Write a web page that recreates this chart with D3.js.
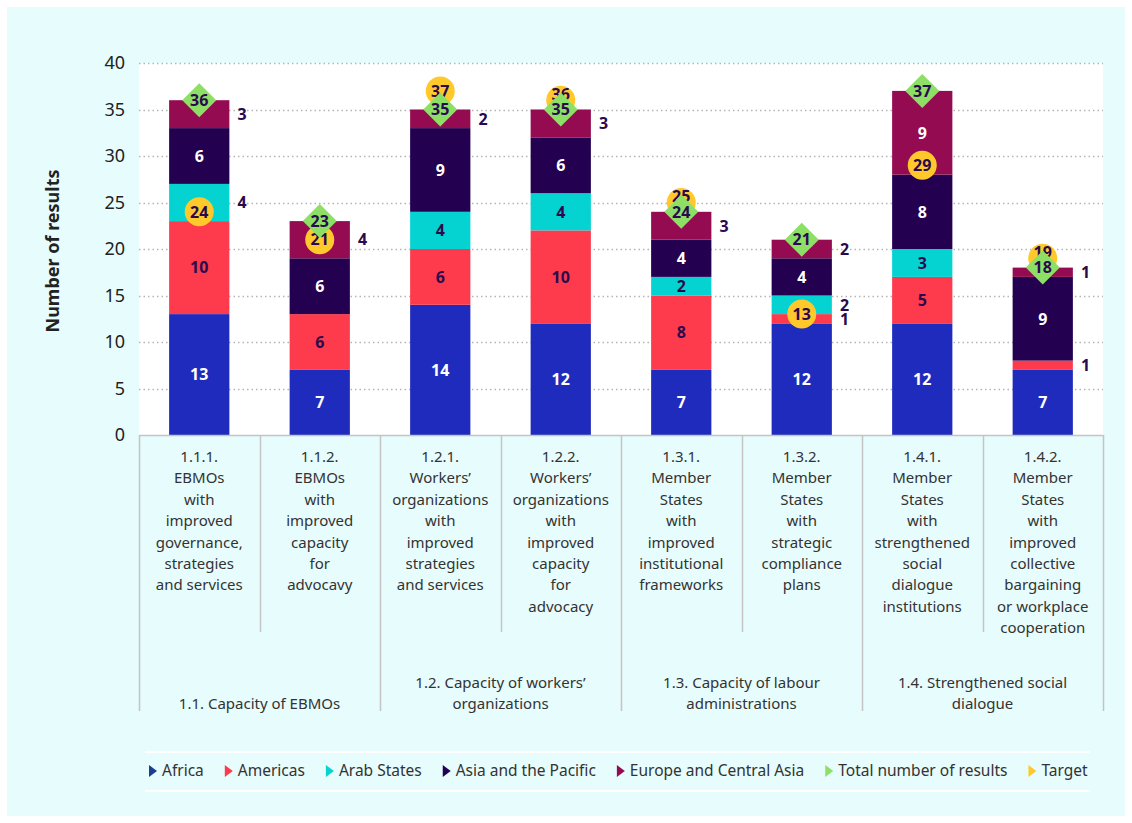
<!DOCTYPE html>
<html>
<head>
<meta charset="utf-8">
<script src="https://cdn.jsdelivr.net/npm/d3@7"></script>
<style>
  html, body { margin: 0; padding: 0; background: #ffffff; }
  svg { display: block; font-family: "Noto Sans", "Open Sans", sans-serif; }
</style>
</head>
<body>
<svg id="chart" width="1132" height="823"></svg>
<script>
// Outputs (each label line is listed separately)
const categories = ["1.1.1.", "1.1.2.", "1.2.1.", "1.2.2.", "1.3.1.", "1.3.2.", "1.4.1.", "1.4.2."];
const categoryLines = [
  ["1.1.1.", "EBMOs", "with", "improved", "governance,", "strategies", "and services"],
  ["1.1.2.", "EBMOs", "with", "improved", "capacity", "for", "advocavy"],
  ["1.2.1.", "Workers’", "organizations", "with", "improved", "strategies", "and services"],
  ["1.2.2.", "Workers’", "organizations", "with", "improved", "capacity", "for", "advocacy"],
  ["1.3.1.", "Member", "States", "with", "improved", "institutional", "frameworks"],
  ["1.3.2.", "Member", "States", "with", "strategic", "compliance", "plans"],
  ["1.4.1.", "Member", "States", "with", "strengthened", "social", "dialogue", "institutions"],
  ["1.4.2.", "Member", "States", "with", "improved", "collective", "bargaining", "or workplace", "cooperation"]
];
const groups = [
  ["1.1. Capacity of EBMOs"],
  ["1.2. Capacity of workers’", "organizations"],
  ["1.3. Capacity of labour", "administrations"],
  ["1.4. Strengthened social", "dialogue"]
];

// Results by region
const regions = ["Africa", "Americas", "Arab States", "Asia and the Pacific", "Europe and Central Asia"];
const africa   = [13, 7, 14, 12, 7, 12, 12, 7];
const americas = [10, 6, 6, 10, 8, 1, 5, 1];
const arab     = [4, 0, 4, 4, 2, 2, 3, 0];
const asia     = [6, 6, 9, 6, 4, 4, 8, 9];
const europe   = [3, 4, 2, 3, 3, 2, 9, 1];
const totals   = [36, 23, 35, 35, 24, 21, 37, 18];
const targets  = [24, 21, 37, 36, 25, 13, 29, 19];

const yTicks = [0, 5, 10, 15, 20, 25, 30, 35, 40];

// Segments whose value label sits beside the bar
const besideLabels = [
  "1.1.1.|Arab States", "1.1.1.|Europe and Central Asia",
  "1.1.2.|Europe and Central Asia",
  "1.2.1.|Europe and Central Asia",
  "1.2.2.|Europe and Central Asia",
  "1.3.1.|Europe and Central Asia",
  "1.3.2.|Americas", "1.3.2.|Arab States", "1.3.2.|Europe and Central Asia",
  "1.4.2.|Americas", "1.4.2.|Europe and Central Asia"
];

const colors = {
  "Africa": "#1f2bbd",
  "Americas": "#fd3b4c",
  "Arab States": "#05d3d2",
  "Asia and the Pacific": "#230050",
  "Europe and Central Asia": "#950b51",
  "Total number of results": "#8de065",
  "Target": "#ffc92c"
};
const legendColors = Object.assign({}, colors, { "Africa": "#1a3f8f" });
const labelInk = { "Africa": "#ffffff", "Americas": "#2a0a4e", "Arab States": "#2a0a4e",
  "Asia and the Pacific": "#ffffff", "Europe and Central Asia": "#ffffff" };
const darkInk = "#2a0a4e";

const svg = d3.select("#chart");
const W = 1132, H = 823;
const plot = { left: 139, right: 1103, top: 63, bottom: 435 };

// Frame and panel
svg.append("rect").attr("width", W).attr("height", H).attr("fill", "#ffffff");
svg.append("rect").attr("x", 7).attr("y", 7).attr("width", W - 14).attr("height", H - 14).attr("fill", "#e7fcfc");
svg.append("rect").attr("x", plot.left).attr("y", plot.top)
  .attr("width", plot.right - plot.left).attr("height", plot.bottom - plot.top).attr("fill", "#ffffff");

const x = d3.scaleBand().domain(categories).range([plot.left, plot.right])
  .paddingInner(0.5).paddingOuter(0.25);
const step = x.step();
const y = d3.scaleLinear().domain([0, 40]).range([plot.bottom, plot.top]);

// Gridlines
svg.append("g").selectAll("line").data(yTicks.filter(t => t > 0)).join("line")
  .attr("x1", plot.left).attr("x2", plot.right)
  .attr("y1", d => Math.round(y(d)) + 0.5).attr("y2", d => Math.round(y(d)) + 0.5)
  .attr("stroke", "#b5b5b5").attr("stroke-width", 1.3).attr("stroke-dasharray", "1.5,3");

// Y axis
const yAxis = svg.append("g").attr("transform", `translate(${plot.left - 14},0)`)
  .call(d3.axisLeft(y).tickValues(yTicks).tickSize(0).tickPadding(0));
yAxis.select(".domain").remove();
yAxis.selectAll("text").attr("font-size", 18).attr("fill", "#222").attr("font-family", "'Noto Sans', sans-serif");

svg.append("text").attr("transform", `translate(59,${(plot.top + plot.bottom) / 2 + 2}) rotate(-90)`)
  .attr("text-anchor", "middle").attr("font-size", 18).attr("font-weight", 700).attr("fill", "#222")
  .text("Number of results");

// Stacked bars
const rows = categories.map((c, i) => ({
  cat: c, "Africa": africa[i], "Americas": americas[i], "Arab States": arab[i],
  "Asia and the Pacific": asia[i], "Europe and Central Asia": europe[i]
}));
const stacked = d3.stack().keys(regions)(rows);

const barG = svg.append("g");
stacked.forEach(layer => {
  barG.append("g").attr("fill", colors[layer.key]).selectAll("rect").data(layer).join("rect")
    .attr("x", d => x(d.data.cat)).attr("width", x.bandwidth())
    .attr("y", d => y(d[1])).attr("height", d => y(d[0]) - y(d[1]));
});

// Segment value labels
stacked.forEach(layer => {
  layer.forEach(d => {
    const v = d[1] - d[0];
    if (v <= 0) return;
    const beside = besideLabels.includes(d.data.cat + "|" + layer.key);
    const cy = y((d[0] + d[1]) / 2);
    barG.append("text")
      .attr("x", beside ? x(d.data.cat) + x.bandwidth() + 8 : x(d.data.cat) + x.bandwidth() / 2)
      .attr("y", cy).attr("dy", "0.36em")
      .attr("text-anchor", beside ? "start" : "middle")
      .attr("font-size", 16).attr("font-weight", 700)
      .attr("fill", beside ? darkInk : labelInk[layer.key])
      .text(v);
  });
});

// Targets (circles) then totals (diamonds) on top
const markG = svg.append("g");
categories.forEach((c, i) => {
  const cx = x(c) + x.bandwidth() / 2;
  const cy = y(targets[i]);
  // a target just above its total keeps its number in the upper part of the circle
  const lift = (targets[i] > totals[i] && targets[i] - totals[i] <= 1) ? -6 : 0;
  const g = markG.append("g");
  g.append("circle").attr("cx", cx).attr("cy", cy).attr("r", 14.5).attr("fill", colors["Target"]);
  g.append("text").attr("x", cx).attr("y", cy + lift).attr("dy", "0.36em")
    .attr("text-anchor", "middle").attr("font-size", 16).attr("font-weight", 700).attr("fill", darkInk)
    .text(targets[i]);
});
categories.forEach((c, i) => {
  const cx = x(c) + x.bandwidth() / 2;
  const cy = y(totals[i]);
  const r = 17;
  markG.append("path").attr("d", `M${cx},${cy - r}L${cx + r},${cy}L${cx},${cy + r}L${cx - r},${cy}Z`)
    .attr("fill", colors["Total number of results"]);
  markG.append("text").attr("x", cx).attr("y", cy).attr("dy", "0.36em")
    .attr("text-anchor", "middle").attr("font-size", 16).attr("font-weight", 700).attr("fill", darkInk)
    .text(totals[i]);
});

// Category axis grid
const axisG = svg.append("g");
axisG.append("line").attr("x1", plot.left).attr("x2", plot.right)
  .attr("y1", plot.bottom + 0.5).attr("y2", plot.bottom + 0.5).attr("stroke", "#c4c4c4").attr("stroke-width", 1.5);
d3.range(categories.length + 1).forEach(k => {
  const xx = Math.round(plot.left + k * step) + 0.5;
  const groupEdge = k % 2 === 0;
  axisG.append("line").attr("x1", xx).attr("x2", xx)
    .attr("y1", plot.bottom).attr("y2", groupEdge ? 711 : 632)
    .attr("stroke", "#c4c4c4").attr("stroke-width", 1.5);
});

// Category labels
const lineH = 21.4;
categoryLines.forEach((lines, i) => {
  const cx = x(categories[i]) + x.bandwidth() / 2;
  const t = axisG.append("text").attr("text-anchor", "middle").attr("font-size", 15).attr("fill", "#333");
  lines.forEach((ln, j) => {
    t.append("tspan").attr("x", cx).attr("y", 462 + j * lineH).text(ln);
  });
});
groups.forEach((lines, g) => {
  const cx = plot.left + step * (2 * g + 1);
  const t = axisG.append("text").attr("text-anchor", "middle").attr("font-size", 15).attr("fill", "#333");
  lines.forEach((ln, j) => {
    t.append("tspan").attr("x", cx).attr("y", 709 - (lines.length - 1 - j) * lineH).text(ln);
  });
});

// Legend
const legendKeys = regions.concat(["Total number of results", "Target"]);
const lg = svg.append("g");
lg.append("line").attr("x1", 145).attr("x2", 1090).attr("y1", 752).attr("y2", 752).attr("stroke", "#ffffff").attr("stroke-width", 2);
lg.append("line").attr("x1", 145).attr("x2", 1090).attr("y1", 791).attr("y2", 791).attr("stroke", "#ffffff").attr("stroke-width", 2);
let lx = 149;
const ly = 771;
legendKeys.forEach(k => {
  lg.append("path").attr("d", `M${lx},${ly - 6}L${lx + 8},${ly}L${lx},${ly + 6}Z`).attr("fill", legendColors[k]);
  const txt = lg.append("text").attr("x", lx + 13).attr("y", ly).attr("dy", "0.35em")
    .attr("font-size", 15.5).attr("fill", "#333").text(k);
  const w = txt.node().getComputedTextLength();
  lx += 13 + w + 21;
});
</script>
</body>
</html>
